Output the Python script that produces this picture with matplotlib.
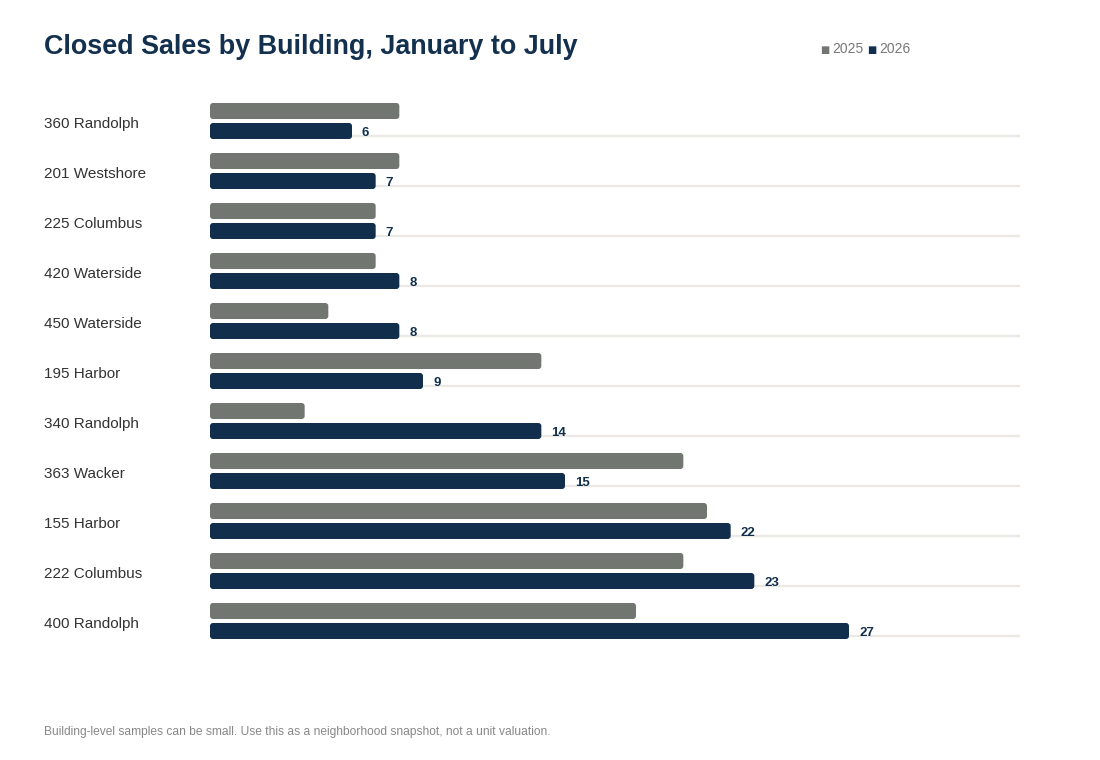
import matplotlib
matplotlib.use("Agg")
import matplotlib.pyplot as plt
from matplotlib.patches import FancyBboxPatch

plt.rcParams['font.family'] = ['Liberation Sans', 'DejaVu Sans']

buildings = ["360 Randolph", "201 Westshore", "225 Columbus", "420 Waterside",
             "450 Waterside", "195 Harbor", "340 Randolph", "363 Wacker",
             "155 Harbor", "222 Columbus", "400 Randolph"]
sales_2025 = [8, 8, 7, 7, 5, 14, 4, 20, 21, 20, 18]
sales_2026 = [6, 7, 7, 8, 8, 9, 14, 15, 22, 23, 27]
series_labels = ["2025", "2026"]

GREY = "#727670"
NAVY = "#112e4c"
TITLE = "#13304f"
GRID = "#ece9e4"

W, H = 1100, 760
fig = plt.figure(figsize=(W / 100, H / 100), dpi=100)
ax_left, ax_right = 210 / W, 1020 / W
ax_top, ax_bot = 96 / H, 646 / H
ax = fig.add_axes([ax_left, 1 - ax_bot, ax_right - ax_left, ax_bot - ax_top])

xmax = 810 / (639 / 27)
ax.set_xlim(0, xmax)
ax.set_ylim(len(buildings) - 0.5, -0.5)

ypos = list(range(len(buildings)))
bh = 0.32
off = 0.2

# separator lines
for y in ypos:
    ax.plot([0, xmax], [y + 0.3, y + 0.3], color=GRID, lw=1.6, zorder=1,
            solid_capstyle='butt')

b1 = ax.barh([y - off for y in ypos], sales_2025, height=bh, color=GREY, zorder=2)
b2 = ax.barh([y + off for y in ypos], sales_2026, height=bh, color=NAVY, zorder=2)

# replace with rounded rectangles
px_x = xmax / 810.0
px_y = 11.0 / 550.0
for bars, col in ((b1, GREY), (b2, NAVY)):
    for r in bars:
        x0, y0 = r.get_x(), r.get_y()
        w, h = r.get_width(), r.get_height()
        r.set_visible(False)
        p = FancyBboxPatch((x0, y0), w, h,
                           boxstyle="round,pad=0,rounding_size=%f" % (3 * px_x),
                           mutation_aspect=px_y / px_x,
                           facecolor=col, edgecolor='none', zorder=3)
        ax.add_patch(p)

for y, v in zip(ypos, sales_2026):
    ax.text(v + 10 * px_x, y + off + 0.02, str(v), ha='left', va='center_baseline',
            fontsize=9.5, fontweight='bold', color=NAVY, zorder=4)

ax.set_yticks([])
ax.set_xticks([])
for s in ax.spines.values():
    s.set_visible(False)

for y, name in zip(ypos, buildings):
    ax.text(-166 * px_x, y + 0.14, name, ha='left', va='baseline', fontsize=11,
            color="#333333", clip_on=False)

fig.text(44 / W, 1 - 54 / H, "Closed Sales by Building, January to July",
         ha='left', va='baseline', fontsize=19.4, fontweight='bold', color=TITLE)

# legend
fig.text(820 / W, 1 - 49.5 / H, "\u25A0", ha='left', va='center', fontsize=7,
         color=GREY, family=['DejaVu Sans'])
fig.text(832 / W, 1 - 49 / H, series_labels[0], ha='left', va='center',
         fontsize=10, color="#777777")
fig.text(867 / W, 1 - 49.5 / H, "\u25A0", ha='left', va='center', fontsize=7,
         color=NAVY, family=['DejaVu Sans'])
fig.text(879 / W, 1 - 49 / H, series_labels[1], ha='left', va='center',
         fontsize=10, color="#777777")

fig.text(44 / W, 1 - 732.5 / H,
         "Building-level samples can be small. Use this as a neighborhood snapshot, not a unit valuation.",
         ha='left', va='center', fontsize=8.65, color="#888888")

fig.savefig("out.png", dpi=100, facecolor='white')
